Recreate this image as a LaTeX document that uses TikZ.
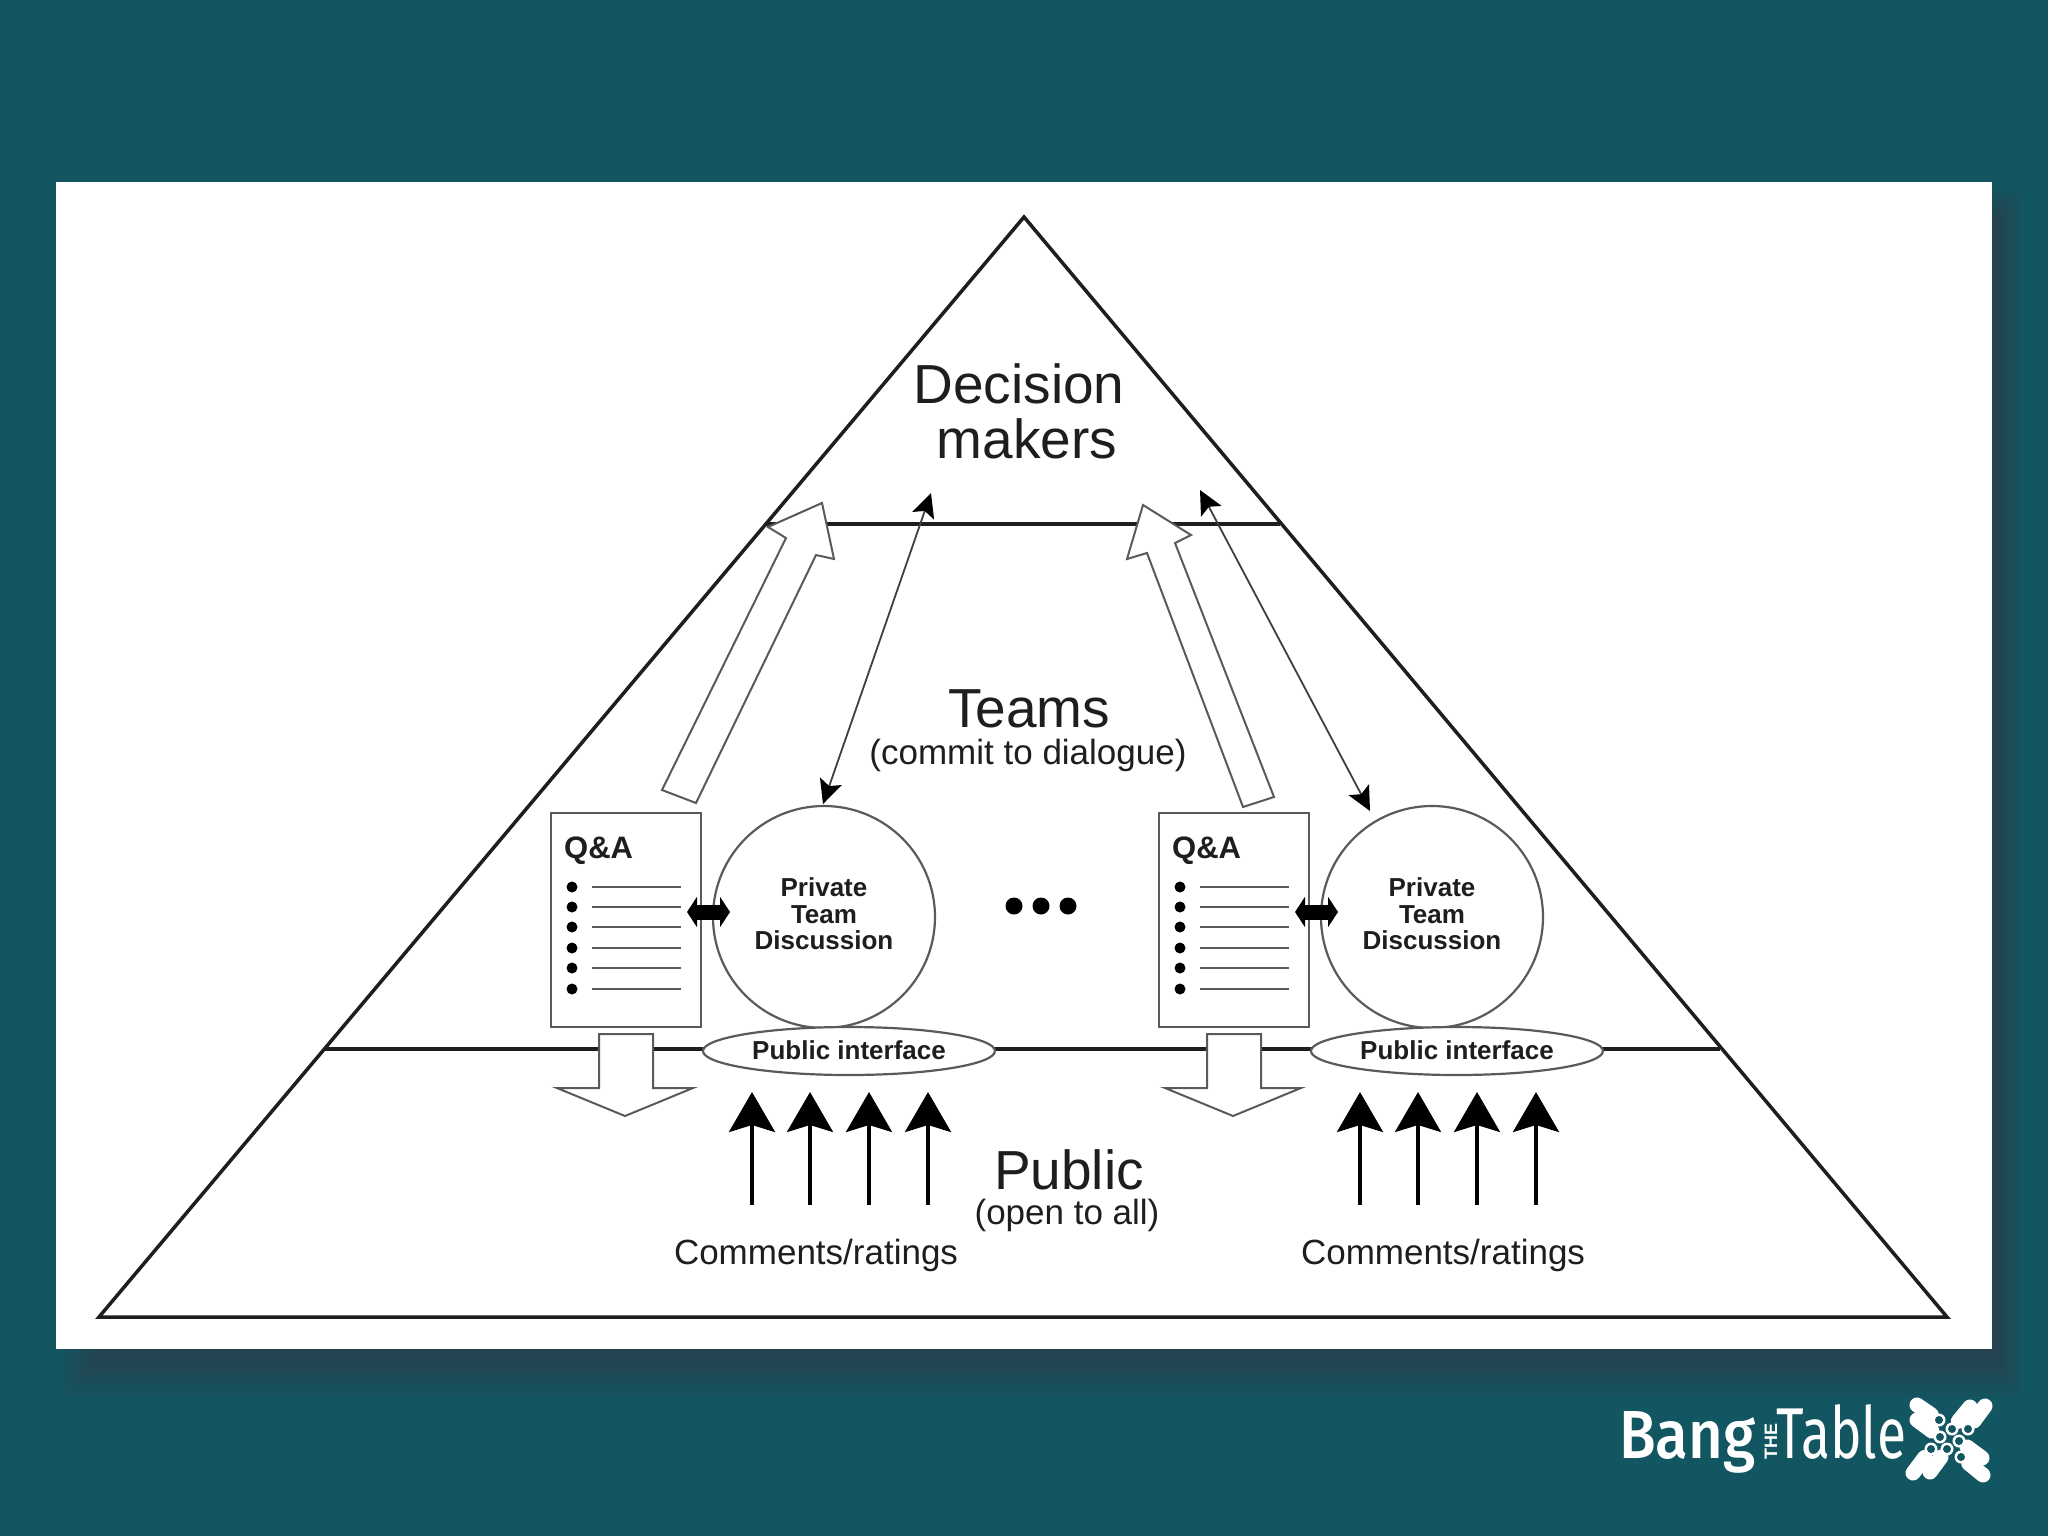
\documentclass[tikz,border=0pt]{standalone}
\usepackage{fontspec}
\setmainfont{Liberation Sans}
\newfontfamily\logobang{Fira Sans Medium}
\newfontfamily\logotable{Fira Sans}
\usepackage{tikz}
\usetikzlibrary{
	shapes.geometric,
	arrows.meta,
	positioning
}
\definecolor{slidebg}{HTML}{125662}
\definecolor{slideshadow}{HTML}{3A3A48}
\definecolor{inkline}{HTML}{1E1E1E}
\definecolor{inkgray}{HTML}{5A5A5A}

\tikzset{
    bigtext/.style={font=\fontsize{55}{55}\selectfont, text=inkline, inner sep=0pt, align=center},
    subtext/.style={font=\fontsize{35}{38}\selectfont, text=inkline, inner sep=0pt, align=center},
    boldtext/.style={font=\fontsize{26}{26.5}\selectfont\bfseries, text=inkline, inner sep=0pt, align=center},
    layerline/.style={draw=inkline, line width=3.5pt},
    blockarrow/.style={draw=inkgray, fill=white, line width=2pt, line join=miter},
    thinarrow/.style={draw=inkgray!70!black, line width=1.8pt, {Stealth[length=24pt,width=23pt,inset=5pt,color=black]}-{Stealth[length=24pt,width=23pt,inset=5pt,color=black]}},
    voicearrow/.style={draw=black, line width=3.5pt, -{Stealth[length=40pt,width=46pt,inset=7pt]}},
    swaparrow/.style={draw=black, line width=15pt, {Stealth[length=10pt,width=30pt,inset=0pt]}-{Stealth[length=10pt,width=30pt,inset=0pt]}},
    qabox/.style={draw=inkgray, fill=white, line width=2.5pt, minimum width=150pt, minimum height=214pt, inner sep=0pt},
    teamcircle/.style={circle, draw=inkgray, fill=white, line width=2.2pt, minimum size=222pt, inner sep=0pt},
    interface/.style={ellipse, draw=inkgray, fill=white, line width=2.2pt, minimum width=292pt, minimum height=48pt, inner sep=0pt}
}

% One team on the pyramid
% Arguments: x-offset, name prefix, x of the comments label
\def\teamgroup#1#2#3{
    \begin{scope}[shift={(#1,0)}, name prefix=#2-]
    % Way down to the public
    \draw[blockarrow] (599,1034) -- (653,1034) -- (653,1088) -- (693,1088) -- (625,1116) -- (557,1088) -- (599,1088) -- cycle;
    % Q&A sheet
    \node[qabox] (sheet) at (626,920) {};
    \node[font=\fontsize{31}{31}\selectfont\bfseries, text=inkline, inner sep=0pt, anchor=west] (qa) at (564,851) {Q\&A};
    \foreach \y in {887,907,927,948,968,989} {
        \fill[black] (572,\y) circle (5.5);
        \draw[inkgray, line width=1.8pt] (592,\y) -- (681,\y);
    }
    % Discussion and its interface
    \node[teamcircle] (team) at (824,917) {};
    \node[interface] (iface) at (849,1051) {};
    \node[boldtext] (teamtext) at (824,914) {Private\\Team\\Discussion};
    \node[boldtext] (ifacetext) at (849,1050) {Public interface};
    % Sheet to discussion
    \coordinate (swapl) at (687,912);
    \coordinate (swapr) at (730,912);
    \draw[swaparrow] (swapl) -- (swapr);
    % Comments from the public
    \foreach \x [count=\i] in {752,810,869,928} {
        \coordinate (foot\i) at (\x,1205);
        \coordinate (head\i) at (\x,1092);
        \draw[voicearrow] (foot\i) -- (head\i);
    }
    \node[subtext] (comments) at (#3,1255) {Comments/ratings};
    \end{scope}
}

\begin{document}
\begin{tikzpicture}[x=1pt, y=-1pt]

\useasboundingbox (0,0) rectangle (2048,1536);
\fill[slidebg] (0,0) rectangle (2048,1536);

% Panel shadow
\foreach \g in {44,40,...,4} {
    \fill[slideshadow, opacity=0.08] (56+50-\g,182+40-\g*0.7) rectangle (1992+\g*0.7,1349+\g*1.1);
}
\fill[white] (56,182) rectangle (1992,1349);

% Pyramid
\coordinate (apex) at (1024,217);
\coordinate (baseleft) at (99,1317);
\coordinate (baseright) at (1947,1317);
\draw[layerline, line join=miter] (apex) -- (baseright) -- (baseleft) -- cycle;
\coordinate (upperleft) at (767,524);
\coordinate (upperright) at (1280,524);
\coordinate (lowerleft) at (325,1049);
\coordinate (lowerright) at (1720,1049);
\draw[layerline] (upperleft) -- (upperright);
\draw[layerline] (lowerleft) -- (lowerright);

% Layer labels
\node[bigtext] (decision) at (1019,384) {Decision};
\node[bigtext] (makers) at (1027,439) {makers};
\node[bigtext] (teams) at (1029,709) {Teams};
\node[subtext] (commit) at (1028,755) {(commit to dialogue)};
\node[bigtext] (public) at (1069,1170) {Public};
\node[subtext] (open) at (1067,1215) {(open to all)};

% Two teams
\teamgroup{0}{left}{816}
\teamgroup{608}{right}{835}

% Dots between the teams
\foreach \x in {1014,1041,1068} {
    \fill[black] (\x,906) circle (8.5);
}

% Ways up to the decision makers
\draw[blockarrow] (662,790) -- (786,538) -- (768,527) -- (822,503) -- (834,559) -- (816,555) -- (696,803) -- cycle;
\draw[blockarrow] (1274,797) -- (1175,543) -- (1191,535) -- (1143,505) -- (1127,559) -- (1147,553) -- (1243,807) -- cycle;
\coordinate (talkleft) at (931,493);
\coordinate (talkright) at (1200,490);
\coordinate (teamleft) at (823,804);
\coordinate (teamright) at (1370,811);
\draw[thinarrow] (teamleft) -- (talkleft);
\draw[thinarrow] (teamright) -- (talkright);

% Logo
\node[font=\logobang\fontsize{68}{68}\selectfont, text=white, inner sep=0pt, anchor=base west, xscale=0.88] (bang) at (1619,1458) {Bang};
\node[font=\fontsize{18}{18}\selectfont\bfseries, text=white, inner sep=0pt, rotate=90] (the) at (1771,1441) {THE};
\node[font=\logotable\fontsize{72}{72}\selectfont, text=white, inner sep=0pt, anchor=base west, xscale=0.74] (table) at (1776,1458) {Table};
\foreach \ox/\oy/\hx/\hy in {1917/1405/1939/1420, 1917/1420/1940/1437, 1970/1407/1952/1429, 1985/1406/1968/1429, 1982/1458/1959/1441, 1983/1475/1961/1457, 1930/1472/1947/1449, 1913/1473/1931/1449} {
    \draw[white, line width=15pt, line cap=round] (\ox,\oy) -- ({\ox+0.65*(\hx-\ox)},{\oy+0.65*(\hy-\oy)});
    \fill[white] (\hx,\hy) circle (6.5);
    \fill[slidebg] (\hx,\hy) circle (4);
}

\end{tikzpicture}
\end{document}
